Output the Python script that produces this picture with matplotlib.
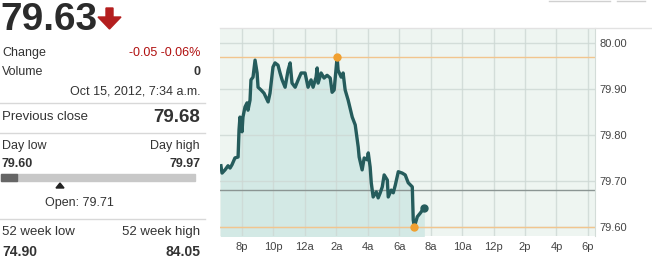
import matplotlib
matplotlib.use('Agg')
import numpy as np
import matplotlib.pyplot as plt
from matplotlib.patches import Polygon, Rectangle
from matplotlib.lines import Line2D

plt.rcParams['font.family'] = ['Liberation Sans', 'DejaVu Sans']

# intraday trace, hours since midnight Oct 14 (20 = 8p, 24 = 12a, 31.57 = 7:34a)
hours = [18.66, 18.73, 18.92, 19.11, 19.24, 19.36, 19.55, 19.75, 19.81, 19.87,
         20.00, 20.06, 20.19, 20.32, 20.38, 20.51, 20.57, 20.70, 20.83, 20.96,
         21.02, 21.21, 21.40, 21.66, 21.78, 21.97, 22.10, 22.29, 22.42, 22.55,
         22.74, 22.93, 23.06, 23.18, 23.38, 23.57, 23.76, 24.01, 24.20, 24.39,
         24.52, 24.71, 24.78, 24.84, 25.03, 25.22, 25.41, 25.61, 25.73, 25.86,
         26.05, 26.11, 26.31, 26.43, 26.56, 26.75, 27.01, 27.20, 27.39, 27.45,
         27.64, 27.77, 27.96, 28.03, 28.15, 28.22, 28.34, 28.54, 28.66, 28.79,
         28.92, 29.04, 29.24, 29.30, 29.49, 29.62, 29.75, 29.94, 30.19, 30.38,
         30.57, 30.83, 30.89, 30.96, 31.15, 31.34, 31.55]
prices = [79.733, 79.717, 79.724, 79.733, 79.728, 79.735, 79.750, 79.752, 79.811, 79.839,
          79.807, 79.839, 79.861, 79.870, 79.854, 79.876, 79.920, 79.926, 79.963, 79.935,
          79.904, 79.898, 79.891, 79.872, 79.891, 79.948, 79.957, 79.952, 79.935, 79.920,
          79.904, 79.941, 79.957, 79.913, 79.904, 79.920, 79.935, 79.935, 79.904, 79.920,
          79.904, 79.926, 79.946, 79.913, 79.935, 79.924, 79.930, 79.924, 79.893, 79.898,
          79.970, 79.941, 79.926, 79.935, 79.898, 79.876, 79.839, 79.822, 79.774, 79.752,
          79.724, 79.750, 79.746, 79.761, 79.730, 79.696, 79.665, 79.676, 79.663, 79.674,
          79.687, 79.713, 79.702, 79.665, 79.680, 79.674, 79.691, 79.720, 79.717, 79.713,
          79.696, 79.687, 79.615, 79.600, 79.622, 79.630, 79.640]

tick_hours = [20, 22, 24, 26, 28, 30, 32, 34, 36, 38, 40, 42]
tick_labels = ['8p', '10p', '12a', '2a', '4a', '6a', '8a', '10a', '12p', '2p', '4p', '6p']
y_ticks = [79.60, 79.70, 79.80, 79.90, 80.00]

last_price = '79.63'
change = '-0.05 -0.06%'
volume = '0'
stamp = 'Oct 15, 2012, 7:34 a.m.'
prev_close = 79.68
day_low, day_high = 79.60, 79.97
open_price = 79.71
wk52_low, wk52_high = '74.90', '84.05'

W, H = 652, 260
fig = plt.figure(figsize=(W / 100, H / 100), dpi=100)
fig.patch.set_facecolor('white')


def px(x, y):
    return x / W, 1 - y / H


def txt(x, y, s, **kw):
    kw.setdefault('va', 'center')
    kw.setdefault('color', '#333333')
    fig.text(*px(x, y), s, **kw)


def hline(y, x0=0, x1=205, color='#d8d8d8'):
    fig.add_artist(Line2D([x0 / W, x1 / W], [1 - y / H, 1 - y / H], color=color, lw=1))


# ---- chart ----
ax = fig.add_axes([220 / W, 24 / H, 375 / W, 208 / H])
ax.set_facecolor('#eef5f1')
ax.set_xlim(18.6, 42.45)
ax.set_ylim(79.58, 80.033)
ax.fill_between(hours, prices, 79.58, color='#d3e9e5', zorder=1)
for h in tick_hours:
    ax.axvline(h, color='#cdd8d4', lw=1, alpha=0.8, zorder=2)
for v in y_ticks:
    ax.axhline(v, color='#cdd8d4', lw=1, alpha=0.8, zorder=2)
ax.axhline(day_high, color='#f2c58e', lw=1, zorder=2.5)
ax.axhline(day_low, color='#f2c58e', lw=1, zorder=2.5)
ax.axhline(prev_close, color='#8b9593', lw=1, zorder=2.5)
ax.plot(hours, prices, color='#255c5c', lw=2.4, zorder=3, solid_joinstyle='round')
ax.plot([26.05], [79.97], 'o', color='#f0a030', ms=5, zorder=4)
ax.plot([30.96], [79.60], 'o', color='#f0a030', ms=5, zorder=4)
ax.plot([hours[-1]], [prices[-1]], 'o', color='#255c5c', ms=5, zorder=4)

ax.set_xticks(tick_hours)
ax.set_xticklabels(tick_labels)
ax.set_yticks(y_ticks)
ax.set_yticklabels(['%.2f' % v for v in y_ticks])
ax.yaxis.tick_right()
ax.tick_params(length=0, labelsize=8, colors='#444444', pad=4)
ax.tick_params(axis='y', pad=3)
for s in ax.spines.values():
    s.set_visible(False)
ax.spines['right'].set_visible(True)
ax.spines['right'].set_color('#d3dcd8')
hline(28, 220, 652, color='#e2e2e2')

# small bits of page chrome at the top right
hline(1, 549, 610, color='#d0d0d0')
hline(1, 617, 645, color='#d0d0d0')

# ---- left panel ----
txt(0, 30, last_price, fontsize=28, fontweight='bold', color='#2b2b2b', va='baseline')
ax_arrow = Polygon([px(106, 8), px(113, 8), px(113, 17), px(121, 17), px(109.5, 29),
                    px(98, 17), px(106, 17)], closed=True, transform=fig.transFigure,
                   color='#b41e1e')
fig.add_artist(ax_arrow)

txt(2, 53, 'Change', fontsize=9)
txt(200, 53, change, fontsize=9, ha='right', color='#b01010')
txt(2, 72, 'Volume', fontsize=9)
txt(200, 72, volume, fontsize=9, ha='right', fontweight='bold')
txt(200, 91, stamp, fontsize=9, ha='right')
hline(103)
txt(2, 117, 'Previous close', fontsize=9.5)
txt(200, 118, '%.2f' % prev_close, fontsize=13.5, ha='right', fontweight='bold')
hline(133)
txt(2, 146, 'Day low', fontsize=9)
txt(200, 146, 'Day high', fontsize=9, ha='right')
txt(2, 164, '%.2f' % day_low, fontsize=9, fontweight='bold')
txt(200, 164, '%.2f' % day_high, fontsize=9, ha='right', fontweight='bold')

# day range bar
fig.add_artist(Rectangle(px(1, 181), 194 / W, 7 / H, transform=fig.transFigure,
                         color='#c8c8c8'))
fig.add_artist(Rectangle(px(1, 181), 16 / W, 7 / H, transform=fig.transFigure,
                         color='#666666'))
fig.add_artist(Polygon([px(56, 188), px(64, 188), px(60, 183)], closed=True,
                       transform=fig.transFigure, color='#222222'))
txt(79, 203, 'Open: %.2f' % open_price, fontsize=9, ha='center')
hline(219)
txt(2, 232, '52 week low', fontsize=9.5)
txt(200, 232, '52 week high', fontsize=9.5, ha='right')
txt(2, 252, wk52_low, fontsize=10, fontweight='bold')
txt(200, 252, wk52_high, fontsize=10, ha='right', fontweight='bold')

fig.savefig('out.png', dpi=100)
